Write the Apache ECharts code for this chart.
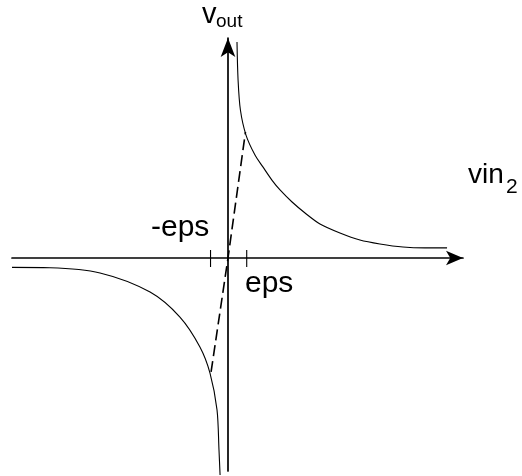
<!DOCTYPE html>
<html>
<head>
<meta charset="utf-8">
<script src="https://cdn.jsdelivr.net/npm/echarts@6/dist/echarts.min.js"></script>
<style>
  html, body { margin: 0; padding: 0; background: #fff; }
  #chart { width: 522px; height: 476px; }
</style>
</head>
<body>
<div id="chart"></div>
<script>
// Units: eps = 1 on the horizontal axis, same scale on the vertical axis.
const upperBranchX = [0.50, 0.56, 0.69, 1.00, 1.50, 1.94, 2.44, 2.89, 3.56, 4.28, 5.11, 6.22, 7.33, 8.44, 9.72, 10.94, 12.17];
const upperBranchY = [12.0, 9.89, 8.22, 6.83, 5.72, 5.06, 4.33, 3.78, 3.11, 2.50, 1.89, 1.39, 1.00, 0.78, 0.61, 0.56, 0.56];
const lowerBranchX = [-12.0, -9.89, -7.11, -4.33, -2.67, -1.56, -1.00, -0.61, -0.50, -0.44];
const lowerBranchY = [-0.52, -0.54, -0.83, -1.89, -3.28, -4.94, -6.39, -8.44, -10.67, -12.06];
const slopeX = [-0.94, 0, 0.97];
const slopeY = [-6.33, 0, 7.0];
const tickX = [-0.97, 1.04];
const tickLabels = ['-eps', 'eps'];
const tickTop = 0.44, tickBottom = -0.5;

const zip = (xs, ys) => xs.map((x, i) => [x, ys[i]]);
const tickData = [];
tickX.forEach((x, i) => {
  if (i > 0) tickData.push('-');
  tickData.push([x, tickTop], [x, tickBottom]);
});

const font = '"Liberation Sans", Arial, Helvetica, sans-serif';
const txt = (text, x, y, size) => ({
  type: 'text', x: x, y: y,
  style: { text: text, font: size + 'px ' + font, fill: '#000', textVerticalAlign: 'middle' }
});

const chart = echarts.init(document.getElementById('chart'), null, { renderer: 'canvas' });
chart.setOption({
  animation: false,
  backgroundColor: '#fff',
  grid: { left: 12, right: 59, top: 38, bottom: 5 },
  xAxis: {
    type: 'value', min: -12, max: 13.056,
    axisLine: { onZero: true, lineStyle: { color: '#000', width: 1.7 }, symbol: ['none', 'arrow'], symbolSize: [11, 17] },
    axisTick: { show: false }, axisLabel: { show: false }, splitLine: { show: false }
  },
  yAxis: {
    type: 'value', min: -11.833, max: 12.222,
    axisLine: { onZero: true, lineStyle: { color: '#000', width: 1.7 }, symbol: ['none', 'arrow'], symbolSize: [11, 19] },
    axisTick: { show: false }, axisLabel: { show: false }, splitLine: { show: false }
  },
  series: [
    { type: 'line', data: zip(upperBranchX, upperBranchY), smooth: 0.3, showSymbol: false, clip: false,
      lineStyle: { color: '#000', width: 1.1 } },
    { type: 'line', data: zip(lowerBranchX, lowerBranchY), smooth: 0.3, showSymbol: false, clip: false,
      lineStyle: { color: '#000', width: 1.1 } },
    { type: 'line', data: zip(slopeX, slopeY), showSymbol: false, clip: false,
      lineStyle: { color: '#000', width: 1.6, type: [11, 5] } },
    { type: 'line', data: tickData, showSymbol: false, clip: false, connectNulls: false,
      lineStyle: { color: '#000', width: 1.1 } }
  ],
  graphic: [
    txt('v', 202, 15, 29), txt('out', 216, 22, 19),
    txt('vin', 468, 175, 28), txt('2', 506, 187, 21),
    txt(tickLabels[0], 151, 228, 30), txt(tickLabels[1], 245, 284, 30)
  ]
});
</script>
</body>
</html>
